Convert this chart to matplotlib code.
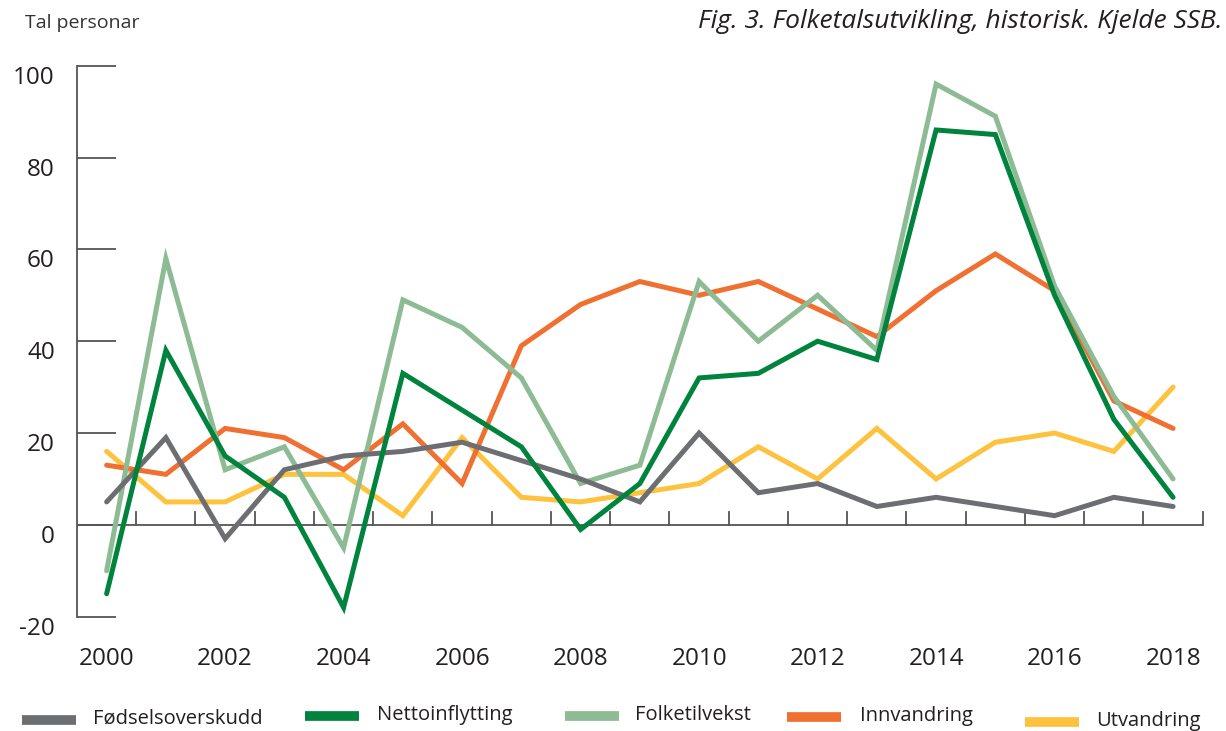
import matplotlib
matplotlib.use("Agg")
import matplotlib.pyplot as plt
from matplotlib.lines import Line2D

plt.rcParams['font.family'] = ['Open Sans', 'DejaVu Sans']
plt.rcParams['axes.unicode_minus'] = False

years = list(range(2000, 2019))
fodselsoverskudd = [5, 19, -3, 12, 15, 16, 18, 14, 10, 5, 20, 7, 9, 4, 6, 4, 2, 6, 4]
nettoinnflytting = [-15, 38, 15, 6, -18, 33, 25, 17, -1, 9, 32, 33, 40, 36, 86, 85, 50, 23, 6]
folketilvekst = [-10, 58, 12, 17, -5, 49, 43, 32, 9, 13, 53, 40, 50, 38, 96, 89, 52, 28, 10]
innvandring = [13, 11, 21, 19, 12, 22, 9, 39, 48, 53, 50, 53, 47, 41, 51, 59, 51, 27, 21]
utvandring = [16, 5, 5, 11, 11, 2, 19, 6, 5, 7, 9, 17, 10, 21, 10, 18, 20, 16, 30]

series_names = ["Fødselsoverskudd", "Nettoinflytting", "Folketilvekst", "Innvandring", "Utvandring"]
colors = ["#6d6e71", "#00843d", "#8dbb94", "#f07032", "#fdc23e"]
yticks = [-20, 0, 20, 40, 60, 80, 100]
xlabels = [2000, 2002, 2004, 2006, 2008, 2010, 2012, 2014, 2016, 2018]

W, H = 1226, 731
fig = plt.figure(figsize=(W/100, H/100), dpi=100)
ax = fig.add_axes([77/W, 1-616.7/H, (1202.7-77)/W, (616.7-65.7)/H])

order = [4, 3, 0, 2, 1]
data = [fodselsoverskudd, nettoinnflytting, folketilvekst, innvandring, utvandring]
for i in order:
    ax.plot(years, data[i], color=colors[i], lw=3.6, solid_joinstyle='miter',
            solid_capstyle='round', zorder=3 + (1 if i in (0, 1) else 0))

ax.set_xlim(1999.5, 2018.5)
ax.set_ylim(-20, 100)

for s in ['top', 'right', 'bottom']:
    ax.spines[s].set_visible(False)
ax.spines['left'].set_color('#555555')
ax.spines['left'].set_linewidth(1.3)

ax.axhline(0, color='#555555', lw=1.3, zorder=2)

ax.set_yticks(yticks)
ax.set_yticklabels([str(v) for v in yticks])
ax.tick_params(axis='y', direction='in', length=28, width=1.3, color='#555555',
               labelsize=17.5, labelcolor='#231f20', pad=16)
for lab in ax.get_yticklabels():
    lab.set_verticalalignment('top')

ax.set_xticks([])
ax.tick_params(axis='x', length=0)
for k in range(19):
    xv = 2000.5 + k
    ax.plot([xv, xv], [0, 12.6/4.592], color='#555555', lw=1.3, zorder=2,
            clip_on=False)
for yr in xlabels:
    ax.text(yr, -26.5, str(yr), ha='center', va='top', fontsize=17.5,
            color='#231f20')

fig.text(25/W, 1-23/H, "Tal personar", fontsize=14, color='#333333',
         ha='left', va='center')
fig.text(1223/W, 1-22/H, "Fig. 3. Folketalsutvikling, historisk. Kjelde SSB.",
         fontsize=19, style='italic', color='#231f20', ha='right', va='center')

hx0 = [22, 305, 565, 787, 1025]
hy = [720, 716, 716, 717, 722]
tx = [93, 377, 635, 860, 1096]
for i in range(5):
    fig.add_artist(Line2D([hx0[i]/W, (hx0[i]+54)/W], [1-hy[i]/H, 1-hy[i]/H],
                          color=colors[i], lw=7, solid_capstyle='butt',
                          transform=fig.transFigure))
    fig.text(tx[i]/W, 1-(hy[i]-1)/H, series_names[i], fontsize=14.5,
             color='#231f20', ha='left', va='center')

fig.savefig("out.png", dpi=100)
